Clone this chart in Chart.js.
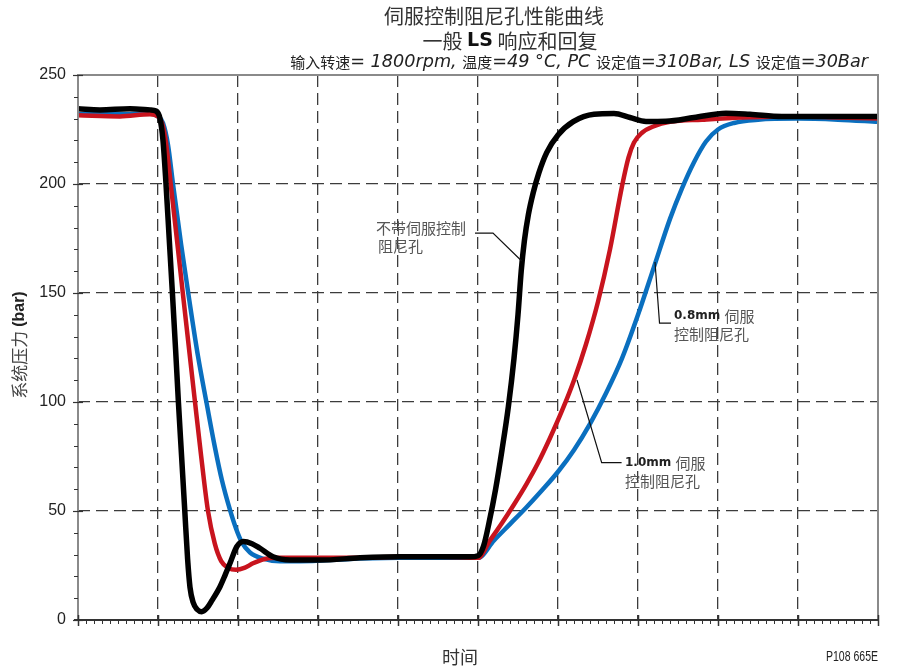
<!DOCTYPE html>
<html><head><meta charset="utf-8">
<script src="https://cdn.jsdelivr.net/npm/chart.js@4.4.0/dist/chart.umd.min.js"></script>
<style>html,body{margin:0;padding:0;background:#fff;}#wrap{width:897px;height:667px;position:relative;}</style>
</head><body><div id="wrap"><canvas id="c" width="897" height="667"></canvas></div>
<script>
// ---- data (time in grid divisions, pressure in bar) ----
const yTicks = [0, 50, 100, 150, 200, 250];
const seriesNames = ['0.8mm 伺服控制阻尼孔', '1.0mm 伺服控制阻尼孔', '不带伺服控制阻尼孔'];

const blueTime = [0,0.525,0.9,1.0,1.0625,1.125,1.1875,1.29,1.39,1.5,1.61,1.71,1.8,1.9,1.975,2.05,2.15,2.3,2.525,2.775,3.4,4.025,4.525,5.0,5.2,5.4,5.6,5.8,6.0,6.2,6.4,6.6,6.8,7.0,7.2,7.4,7.55,7.7,7.85,8.0,8.2,8.5,9.0,9.5,10];
const bluePressure = [232,232,232.5,231,228,218,200,172,147,121,99,79.5,64,50.5,42,35.5,31,28.3,27,27,28,28.5,28.5,28.5,36.5,44,51.5,59.5,68,78,90,104,120,140,162,184,198,210,219.5,225,228,229.5,230,229.5,228.5];

const redTime = [0,0.525,0.9,1.0,1.05,1.1,1.159,1.235,1.31,1.386,1.4625,1.54,1.625,1.71,1.79,1.875,1.975,2.0875,2.1875,2.3375,2.525,3.025,3.525,4.025,4.525,5.0,5.15,5.3,5.45,5.6,5.75,5.9,6.05,6.2,6.35,6.5,6.65,6.8,6.88,6.95,7.05,7.2,7.4,7.8,8.3,9.0,9.5,10];
const redPressure = [231.5,231,232,231,228,219,200,175,150,125,100,75,50,35,27,24,23,24,26,28,28.5,28.5,28.5,29,29,28.5,36.5,44.5,53,62,72,83.5,96,110,126.5,146,170,199,212,219,223.5,226.5,228.5,229.5,230.5,231,230.5,230];

const blackTime = [0,0.275,0.65,0.9,0.975,1.025,1.0625,1.1,1.14,1.18,1.22,1.255,1.295,1.335,1.37,1.4,1.44,1.49,1.546,1.6125,1.675,1.775,1.8375,1.9,1.984,2.066,2.175,2.275,2.4375,2.65,3.025,3.525,4.025,4.525,4.9,5.0,5.07,5.14,5.22,5.3,5.38,5.45,5.5,5.54,5.58,5.63,5.69,5.76,5.86,6.0,6.19,6.45,6.7,6.9,7.1,7.35,7.7,8.1,8.4,8.8,9.5,10];
const blackPressure = [234.5,234,234.5,234,233.5,230,220,200,175,150,124,100,75,50,28,15,8,4.8,3.8,5.5,9,15.3,20.5,26,33.6,36,35,32.9,29,27.5,27.5,28.5,29,29,29,29.5,34,45,60,78,98,120,140,160,174,186,196,205,214.5,222.5,228.6,232,232.3,230.5,228.7,228.8,230.5,232.5,232,231,231,231];

function pts(t, p) { return t.map((v, i) => ({ x: v, y: p[i] })); }

// ---- annotations (data coordinates) ----
const annotations = [
  { path: [[4.9625,177.5],[5.1875,177.5],[5.546,164.7]], at: [3.725, 179.8], lines: [[['不带伺服控制','cjk']],[['阻尼孔','cjk']]] , dx2: 2 },
  { path: [[7.2125,164.2],[7.269,136.2],[7.4125,136.2]], at: [7.45, 139.4], lines: [[['0.8mm ','lat'],['伺服','cjk']],[['控制阻尼孔','cjk']]], dx2: 0 },
  { path: [[6.2375,110.1],[6.546,72.2],[6.795,72.2]], at: [6.8375, 72.0], lines: [[['1.0mm ','lat'],['伺服','cjk']],[['控制阻尼孔','cjk']]], dx2: 0 }
];

const CJK = '"Noto Sans CJK SC", "Noto Sans", sans-serif';
const LAT = '"DejaVu Sans", "Liberation Sans", sans-serif';

function segWidth(ctx, segs) {
  let total = 0;
  segs.forEach(s => { ctx.font = s.f; total += ctx.measureText(s.t).width; });
  return total;
}
function drawSegs(ctx, segs, x, y, align) {
  const total = segWidth(ctx, segs);
  let cx = align === 'right' ? x - total : align === 'center' ? x - total / 2 : x;
  ctx.textAlign = 'left';
  segs.forEach(s => { ctx.font = s.f; ctx.fillStyle = s.c; ctx.fillText(s.t, cx, y); cx += ctx.measureText(s.t).width; });
}

const decor = {
  id: 'decor',
  afterDraw(chart) {
    const ctx = chart.ctx, xs = chart.scales.x, ys = chart.scales.y;
    const L = xs.left, R = xs.right, T = ys.top, B = ys.bottom;
    ctx.save();
    ctx.setLineDash([]);
    ctx.strokeStyle = '#8a8a8a'; ctx.lineWidth = 2;
    ctx.beginPath(); ctx.moveTo(L, B); ctx.lineTo(L, T); ctx.lineTo(R, T); ctx.lineTo(R, B); ctx.stroke();
    ctx.strokeStyle = '#333'; ctx.lineWidth = 2;
    ctx.beginPath(); ctx.moveTo(L - 4, B); ctx.lineTo(R, B); ctx.stroke();
    ctx.strokeStyle = '#333';
    for (let i = 0; i <= 100; i++) {
      const px = Math.round(xs.getPixelForValue(i / 10)) + 0.5;
      ctx.beginPath();
      if (i % 10 === 0) { ctx.lineWidth = 1.5; ctx.moveTo(px, B - 5); ctx.lineTo(px, B + 6); }
      else { ctx.lineWidth = 1; ctx.moveTo(px, B); ctx.lineTo(px, B + 4); }
      ctx.stroke();
    }
    for (let v = 0; v <= 250; v += 10) {
      const py = Math.round(ys.getPixelForValue(v)) + 0.5;
      ctx.beginPath();
      if (v % 50 === 0) { ctx.lineWidth = 1.2; ctx.moveTo(L - 5, py); ctx.lineTo(L + 5, py); }
      else { ctx.lineWidth = 1; ctx.moveTo(L - 4, py); ctx.lineTo(L, py); }
      ctx.stroke();
    }
    ctx.textBaseline = 'middle';
    annotations.forEach(a => {
      ctx.strokeStyle = '#111'; ctx.lineWidth = 1.2;
      ctx.beginPath();
      a.path.forEach((p, i) => {
        const X = xs.getPixelForValue(p[0]), Y = ys.getPixelForValue(p[1]);
        i ? ctx.lineTo(X, Y) : ctx.moveTo(X, Y);
      });
      ctx.stroke();
      const tx = xs.getPixelForValue(a.at[0]), ty = ys.getPixelForValue(a.at[1]);
      a.lines.forEach((ln, k) => {
        const segs = ln.map(s => s[1] === 'cjk' ? { t: s[0], f: '15px ' + CJK, c: '#555' } : { t: s[0], f: 'bold 12px ' + LAT, c: '#222' });
        drawSegs(ctx, segs, tx + (k ? a.dx2 : 0), ty + k * 18, 'left');
      });
    });
    // titles
    drawSegs(ctx, [{ t: '伺服控制阻尼孔性能曲线', f: '20px ' + CJK, c: '#333' }], 494, 16, 'center');
    drawSegs(ctx, [
      { t: '一般 ', f: '20px ' + CJK, c: '#333' },
      { t: 'LS', f: 'bold 19px ' + LAT, c: '#111' },
      { t: ' 响应和回复', f: '20px ' + CJK, c: '#333' }], 510, 41, 'center');
    const parts = [['输入转速', 0], ['= 1800rpm, ', 1], ['温度', 0], ['=49 °C, PC ', 1], ['设定值', 0], ['=310Bar, LS ', 1], ['设定值', 0], ['=30Bar', 1]];
    const mk = ls => parts.map(p => ({ t: p[0], f: p[1] ? 'italic ' + ls.toFixed(2) + 'px ' + LAT : '15px ' + CJK, c: '#222' }));
    const cjkW = segWidth(ctx, mk(14).filter((s, i) => !parts[i][1]));
    const latW = segWidth(ctx, mk(14).filter((s, i) => parts[i][1]));
    drawSegs(ctx, mk(14 * (578 - cjkW) / latW), 868, 62, 'right');
    ctx.save();
    ctx.translate(20, 345); ctx.rotate(-Math.PI / 2);
    drawSegs(ctx, [{ t: '系统压力 ', f: '17px ' + CJK, c: '#444' }, { t: '(bar)', f: 'bold 16px "Liberation Sans", Arial, sans-serif', c: '#222' }], 0, 0, 'center');
    ctx.restore();
    drawSegs(ctx, [{ t: '时间', f: '18px ' + CJK, c: '#333' }], 460, 657, 'center');
    ctx.save();
    ctx.font = '14px "Liberation Sans", Arial, sans-serif';
    const pw = ctx.measureText('P108 665E').width;
    ctx.translate(878 - 52, 657); ctx.scale(52 / pw, 1);
    ctx.fillStyle = '#222'; ctx.textAlign = 'left'; ctx.fillText('P108 665E', 0, 0);
    ctx.restore();
    ctx.restore();
  }
};

const gridColor = ctx => (ctx.index === 0 || ctx.index === ctx.scale.ticks.length - 1) ? 'rgba(0,0,0,0)' : '#3c3c3c';

new Chart(document.getElementById('c'), {
  type: 'line',
  data: {
    datasets: [
      { label: seriesNames[2], data: pts(blackTime, blackPressure), borderColor: '#000000', borderWidth: 5.5, order: 1 },
      { label: seriesNames[1], data: pts(redTime, redPressure), borderColor: '#c8141e', borderWidth: 4.5, order: 2 },
      { label: seriesNames[0], data: pts(blueTime, bluePressure), borderColor: '#0a6fbf', borderWidth: 4.5, order: 3 }
    ]
  },
  options: {
    responsive: false, animation: false,
    layout: { padding: { top: 75, right: 19, bottom: 47, left: 0 } },
    elements: { point: { radius: 0 }, line: { cubicInterpolationMode: 'monotone', borderJoinStyle: 'round', borderCapStyle: 'round' } },
    plugins: { legend: { display: false }, tooltip: { enabled: false }, title: { display: false } },
    scales: {
      x: {
        type: 'linear', min: 0, max: 10,
        ticks: { display: false, stepSize: 1 },
        grid: { color: gridColor, lineWidth: 1.3, drawTicks: false },
        border: { display: false, dash: [12, 6] },
        afterFit(s) { s.height = 0; }
      },
      y: {
        min: 0, max: 250,
        afterBuildTicks(s) { s.ticks = yTicks.map(v => ({ value: v })); },
        ticks: { padding: 12, color: '#222', font: { family: '"Liberation Sans", Arial, sans-serif', size: 16 } },
        grid: { color: gridColor, lineWidth: 1.3, drawTicks: false },
        border: { display: false, dash: [12, 6] },
        afterFit(s) { s.width = 78; }
      }
    }
  },
  plugins: [decor]
});
</script></body></html>
